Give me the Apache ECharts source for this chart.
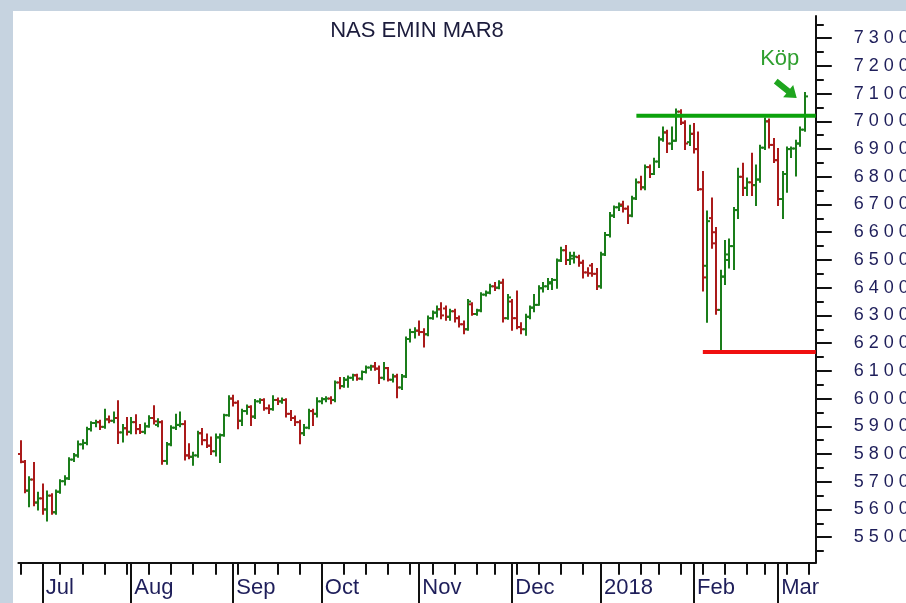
<!DOCTYPE html>
<html>
<head>
<meta charset="utf-8">
<title>NAS EMIN MAR8</title>
<script src="https://cdn.jsdelivr.net/npm/echarts@6/dist/echarts.min.js"></script>
<style>
  html, body { margin: 0; padding: 0; background: #c6d3e0; }
  #main { width: 906px; height: 603px; }
</style>
</head>
<body>
<div id="main"></div>
<script>
// trading days (last two are empty slots at the right edge)
var dates = [
  '2017-06-26','2017-06-27','2017-06-28','2017-06-29','2017-06-30',
  '2017-07-03','2017-07-05','2017-07-06','2017-07-07','2017-07-10','2017-07-11','2017-07-12','2017-07-13','2017-07-14',
  '2017-07-17','2017-07-18','2017-07-19','2017-07-20','2017-07-21','2017-07-24','2017-07-25','2017-07-26','2017-07-27','2017-07-28','2017-07-31',
  '2017-08-01','2017-08-02','2017-08-03','2017-08-04','2017-08-07','2017-08-08','2017-08-09','2017-08-10','2017-08-11',
  '2017-08-14','2017-08-15','2017-08-16','2017-08-17','2017-08-18','2017-08-21','2017-08-22','2017-08-23','2017-08-24','2017-08-25',
  '2017-08-28','2017-08-29','2017-08-30','2017-08-31',
  '2017-09-01','2017-09-05','2017-09-06','2017-09-07','2017-09-08','2017-09-11','2017-09-12','2017-09-13','2017-09-14','2017-09-15',
  '2017-09-18','2017-09-19','2017-09-20','2017-09-21','2017-09-22','2017-09-25','2017-09-26','2017-09-27','2017-09-28','2017-09-29',
  '2017-10-02','2017-10-03','2017-10-04','2017-10-05','2017-10-06','2017-10-09','2017-10-10','2017-10-11','2017-10-12','2017-10-13',
  '2017-10-16','2017-10-17','2017-10-18','2017-10-19','2017-10-20','2017-10-23','2017-10-24','2017-10-25','2017-10-26','2017-10-27',
  '2017-10-30','2017-10-31',
  '2017-11-01','2017-11-02','2017-11-03','2017-11-06','2017-11-07','2017-11-08','2017-11-09','2017-11-10','2017-11-13','2017-11-14',
  '2017-11-15','2017-11-16','2017-11-17','2017-11-20','2017-11-21','2017-11-22','2017-11-24','2017-11-27','2017-11-28','2017-11-29','2017-11-30',
  '2017-12-01','2017-12-04','2017-12-05','2017-12-06','2017-12-07','2017-12-08','2017-12-11','2017-12-12','2017-12-13','2017-12-14',
  '2017-12-15','2017-12-18','2017-12-19','2017-12-20','2017-12-21','2017-12-22','2017-12-26','2017-12-27','2017-12-28','2017-12-29',
  '2018-01-02','2018-01-03','2018-01-04','2018-01-05','2018-01-08','2018-01-09','2018-01-10','2018-01-11','2018-01-12','2018-01-16',
  '2018-01-17','2018-01-18','2018-01-19','2018-01-22','2018-01-23','2018-01-24','2018-01-25','2018-01-26','2018-01-29','2018-01-30','2018-01-31',
  '2018-02-01','2018-02-02','2018-02-05','2018-02-06','2018-02-07','2018-02-08','2018-02-09','2018-02-12','2018-02-13','2018-02-14',
  '2018-02-15','2018-02-16','2018-02-20','2018-02-21','2018-02-22','2018-02-23','2018-02-26','2018-02-27','2018-02-28',
  '2018-03-01','2018-03-02','2018-03-05','2018-03-06','2018-03-07','2018-03-08','2018-03-09','2018-03-12','2018-03-13'
];

var open = [
  5800,5772,5668,5708,5625, 5640,5600,5650,5590,5664,5702,5712,5780,5795, 5835,5840,5890,5912,5915,5898,5925,5920,5930,5878,5893,
  5880,5915,5890,5880,5900,5930,5905,5915,5775, 5835,5895,5905,5908,5795,5790,5795,5875,5850,5830, 5810,5860,5868,5940,
  6000,5985,5920,5955,5970,5935,5990,5995,5965,5962, 5995,5990,5995,5945,5930,5915,5875,5895,5955,5945,
  5990,5998,6000,5995,6058,6045,6068,6075,6084,6072, 6096,6112,6116,6108,6075,6110,6068,6080,6040,6080, 6215,6240,
  6245,6240,6232,6290,6310,6322,6325,6295,6315,6290, 6268,6250,6340,6305,6318,6375,6382,6405,6400,6418,6290,
  6350,6290,6258,6250,6295,6328,6338,6398,6405,6420, 6428,6498,6535,6500,6505,6510,6490,6455,6480,6450,
  6405,6520,6590,6660,6690,6700,6685,6660,6722,6780, 6762,6835,6810,6855,6935,6960,6920,6930,7035,6995,6925,
  6955,6900,6755,6479,6651,6600,6320,6440,6500,6550, 6680,6800,6760,6780,6770,6790,6905,7000,6915,
  6860,6720,6810,6900,6902,6920,6970
];
var high = [
  5846,5775,5716,5768,5660, 5690,5665,5655,5668,5705,5720,5785,5800,5845, 5850,5895,5915,5920,5920,5960,5935,5950,5990,5905,5930,
  5930,5940,5905,5910,5936,5972,5925,5918,5840, 5900,5942,5950,5918,5835,5805,5880,5890,5870,5860, 5870,5870,5942,6008,
  6010,5990,5960,5975,5972,5995,5998,5998,5975,6008, 6000,6000,5998,5955,5935,5920,5905,5960,5960,6001,
  6001,6005,6005,6062,6074,6074,6080,6086,6086,6098, 6116,6118,6128,6116,6128,6110,6086,6086,6085,6220, 6248,6254,
  6278,6250,6296,6314,6332,6344,6332,6320,6320,6296, 6278,6356,6344,6320,6380,6386,6411,6417,6423,6429,6374,
  6356,6386,6272,6302,6332,6374,6405,6417,6431,6431, 6502,6544,6550,6526,6526,6515,6497,6470,6485,6467,
  6526,6597,6669,6693,6704,6710,6693,6728,6790,6800, 6841,6841,6865,6942,6978,6966,6978,7043,7040,7000,6984,
  6990,6960,6817,6675,6722,6615,6461,6568,6574,6687, 6829,6847,6794,6883,6841,6912,7010,7007,6936,
  6900,6817,6906,6906,6930,6978,7102
];
var low = [
  5770,5662,5612,5615,5600, 5585,5560,5585,5585,5660,5690,5710,5775,5790, 5820,5835,5885,5900,5890,5895,5915,5915,5840,5845,5870,
  5875,5875,5876,5875,5898,5910,5900,5765,5765, 5832,5890,5900,5780,5785,5761,5790,5835,5825,5800, 5795,5771,5866,5938,
  5975,5893,5905,5945,5905,5930,5985,5960,5948,5960, 5980,5985,5935,5923,5905,5839,5869,5893,5905,5935,
  5983,5990,5983,5990,6037,6043,6043,6068,6068,6070, 6094,6104,6104,6056,6070,6065,6062,6005,6035,6078, 6206,6220,
  6230,6188,6228,6288,6296,6290,6284,6284,6278,6260, 6236,6248,6302,6302,6315,6372,6380,6392,6398,6278,6288,
  6248,6254,6236,6230,6290,6315,6338,6386,6395,6395, 6400,6496,6485,6485,6491,6479,6437,6443,6443,6395,
  6400,6518,6585,6655,6680,6675,6633,6658,6720,6755, 6755,6799,6810,6835,6930,6889,6900,6930,6990,6900,6915,
  6888,6752,6390,6277,6544,6306,6168,6413,6473,6467, 6651,6734,6734,6734,6698,6782,6900,6906,6853,
  6698,6651,6746,6871,6805,6912,6966
];
var close = [
  5772,5668,5708,5625,5640, 5600,5650,5590,5664,5702,5712,5780,5795,5835, 5840,5890,5912,5915,5898,5925,5920,5930,5878,5893,5880,
  5915,5890,5880,5900,5930,5918,5915,5775,5835, 5895,5905,5908,5795,5790,5795,5875,5850,5830,5810, 5860,5868,5940,6000,
  5985,5920,5955,5970,5935,5990,5995,5965,5962,5995, 5990,5995,5945,5930,5915,5875,5895,5955,5945,5990,
  5998,6000,5995,6058,6045,6068,6075,6084,6072,6096, 6112,6116,6108,6075,6110,6068,6080,6040,6080,6215, 6240,6245,
  6240,6232,6290,6310,6322,6300,6295,6315,6290,6268, 6250,6350,6305,6318,6375,6382,6405,6400,6418,6290,6365,
  6290,6258,6250,6295,6328,6338,6398,6405,6415,6428, 6498,6535,6500,6515,6512,6490,6455,6452,6450,6405,
  6520,6590,6660,6690,6695,6685,6660,6722,6780,6762, 6835,6810,6855,6935,6960,6920,6930,7035,6995,6920,6955,
  6900,6755,6437,6640,6560,6320,6440,6520,6550,6680, 6800,6760,6780,6770,6790,6905,7000,6915,6860,
  6720,6810,6900,6902,6920,6970,7090
];

// y axis tick labels and the two drawn levels
var yTickLabels = [5500,5600,5700,5800,5900,6000,6100,6200,6300,6400,6500,6600,6700,6800,6900,7000,7100,7200,7300];
var levelStart = ['2018-01-12', '2018-02-05'];
var levelValue = [7020, 6168];
var levelColor = ['#0ca20c', '#f01010'];
var buyLabel = 'Köp';
var monthNames = ['Jan','Feb','Mar','Apr','May','Jun','Jul','Aug','Sep','Oct','Nov','Dec'];

var UP = '#1a7d1a', DOWN = '#aa1a1a';
var FONT = "'Liberation Sans', Arial, sans-serif";
var TXT = '#1e1e5a';
var Y_MIN = 5408, Y_MAX = 7380;

function dayOf(d) { return new Date(d + 'T00:00:00Z'); }
function isMonthStart(i) {
  return i > 0 && dates[i].slice(0, 7) !== dates[i - 1].slice(0, 7);
}
function isWeekStart(i) {
  if (i === 0) return dayOf(dates[0]).getUTCDay() === 1;
  var a = dayOf(dates[i - 1]), b = dayOf(dates[i]);
  return b.getUTCDay() < a.getUTCDay() || (b - a) >= 7 * 86400000;
}

var ohlc = [];
for (var i = 0; i < close.length; i++) {
  ohlc.push([i, open[i], high[i], low[i], close[i]]);
}
// time ticks: 1 = month start (long), 0 = week start (short)
var timeTicks = [];
dates.forEach(function (d, k) {
  if (isMonthStart(k)) timeTicks.push([k, Y_MIN, 1]);
  else if (isWeekStart(k)) timeTicks.push([k, Y_MIN, 0]);
});
var levels = levelStart.map(function (d, k) { return [dates.indexOf(d), levelValue[k], k]; });
var minorTicks = [yTickLabels[0] - 50].concat(yTickLabels.map(function (v) { return v + 50; }));
var lastIdx = close.length - 1;

var chart = echarts.init(document.getElementById('main'));

function renderBar(params, api) {
  var idx = api.value(0);
  var o = api.coord([idx, api.value(1)]);
  var h = api.coord([idx, api.value(2)]);
  var l = api.coord([idx, api.value(3)]);
  var c = api.coord([idx, api.value(4)]);
  var x = Math.round(o[0]);
  var st = { stroke: api.value(4) >= api.value(1) ? UP : DOWN, lineWidth: 2 };
  return {
    type: 'group',
    children: [
      { type: 'line', shape: { x1: x, y1: h[1] - 1, x2: x, y2: l[1] + 1 }, style: st },
      { type: 'line', shape: { x1: x - 3, y1: o[1], x2: x, y2: o[1] }, style: st },
      { type: 'line', shape: { x1: x, y1: c[1], x2: x + 3, y2: c[1] }, style: st }
    ]
  };
}

function renderLevel(params, api) {
  var p = api.coord([api.value(0), api.value(1)]);
  var right = params.coordSys.x + params.coordSys.width;
  return {
    type: 'line',
    shape: { x1: p[0], y1: p[1], x2: right, y2: p[1] },
    style: { stroke: levelColor[api.value(2)], lineWidth: 4 }
  };
}

// week ticks and long month separators below the time axis
function renderTimeTick(params, api) {
  var p = api.coord([api.value(0), api.value(1)]);
  var x = Math.round(p[0]);
  var y0 = params.coordSys.y + params.coordSys.height;
  return {
    type: 'line',
    shape: { x1: x, y1: y0, x2: x, y2: y0 + (api.value(2) ? 42 : 12) },
    style: { stroke: '#111', lineWidth: 2 }
  };
}

// "Köp" note with its arrow, hung on the last bar's high
function renderBuy(params, api) {
  var p = api.coord([api.value(0), api.value(1)]);
  var tx = p[0] - 8, ty = p[1] + 5;
  return {
    type: 'group',
    children: [
      { type: 'text', style: { text: buyLabel, x: tx - 17, y: ty - 39, align: 'center', verticalAlign: 'middle',
        font: '22px ' + FONT, fill: '#2f9f2f' } },
      { type: 'polygon', x: tx, y: ty, rotation: -0.68,
        shape: { points: [[-27, -3], [-11, -3], [-11, -8], [0, 0], [-11, 8], [-11, 3], [-27, 3]] },
        style: { fill: '#1ea51e' } }
    ]
  };
}

chart.setOption({
  animation: false,
  backgroundColor: '#c6d3e0',
  graphic: [
    { type: 'rect', z: -100, shape: { x: 13, y: 11, width: 893, height: 592 }, style: { fill: '#ffffff' } },
    { type: 'text', style: {
      text: 'NAS EMIN MAR8', x: 417, y: 31, align: 'center', verticalAlign: 'middle',
      font: '22px ' + FONT, fill: '#1c1c3c' } }
  ],
  grid: { left: 18.4, right: 90.2, top: 16, bottom: 40.3, outerBoundsMode: 'none' },
  xAxis: {
    type: 'category',
    data: dates,
    boundaryGap: true,
    axisLine: { onZero: false, lineStyle: { color: '#111', width: 2 } },
    axisTick: { show: false },
    axisLabel: {
      interval: function (i) { return isMonthStart(i); },
      formatter: function (v) {
        var m = +v.slice(5, 7) - 1;
        return m === 0 ? v.slice(0, 4) : monthNames[m];
      },
      align: 'left', margin: 14, padding: [0, 0, 0, 3],
      fontSize: 22, fontFamily: FONT, color: TXT
    },
    splitLine: { show: false }
  },
  yAxis: [{
    type: 'value',
    position: 'right',
    min: Y_MIN, max: Y_MAX,
    axisLine: { show: true, lineStyle: { color: '#111', width: 2 } },
    axisTick: { show: true, length: 16, customValues: yTickLabels, lineStyle: { color: '#111', width: 2 } },
    axisLabel: {
      customValues: yTickLabels, margin: 38, align: 'left',
      fontSize: 18, fontFamily: FONT, color: TXT,
      formatter: function (v) { return String(v).split('').join(' '); }
    },
    splitLine: { show: false }
  }, {
    type: 'value',
    position: 'right',
    min: Y_MIN, max: Y_MAX,
    axisLine: { show: false },
    axisTick: { show: true, length: 8, customValues: minorTicks, lineStyle: { color: '#111', width: 2 } },
    axisLabel: { show: false },
    splitLine: { show: false }
  }],
  series: [{
    type: 'custom',
    name: 'NAS EMIN MAR8',
    renderItem: renderBar,
    encode: { x: 0, y: [1, 2, 3, 4] },
    data: ohlc,
    z: 3
  }, {
    type: 'custom',
    name: 'levels',
    renderItem: renderLevel,
    encode: { x: 0, y: 1 },
    data: levels,
    z: 4
  }, {
    type: 'custom',
    name: 'timeTicks',
    renderItem: renderTimeTick,
    encode: { x: 0, y: 1 },
    clip: false,
    data: timeTicks,
    silent: true
  }, {
    type: 'custom',
    name: 'buy',
    renderItem: renderBuy,
    encode: { x: 0, y: 1 },
    clip: false,
    data: [[lastIdx, high[lastIdx]]],
    silent: true,
    z: 5
  }]
});
</script>
</body>
</html>
